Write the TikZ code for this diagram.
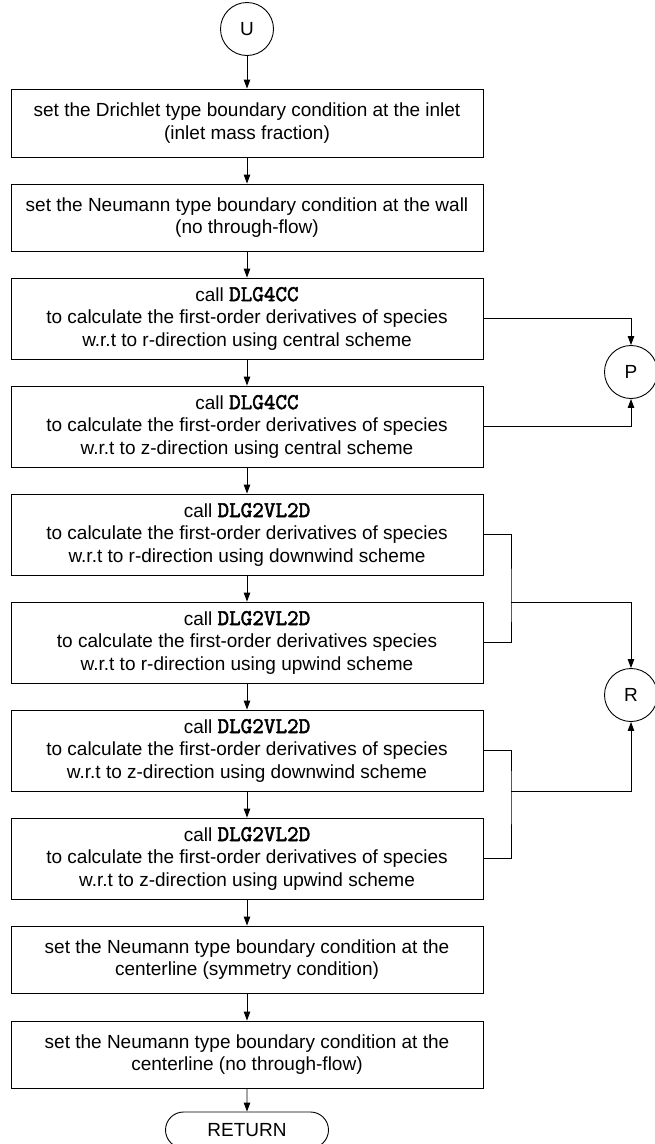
\documentclass[tikz,border=0pt]{standalone}
\usepackage{fontspec}
\setmainfont{Liberation Sans}
% heavy slab-serif typewriter face for routine names
\newfontfamily\codefont[FakeBold=2.2]{Latin Modern Mono}
\usetikzlibrary{arrows.meta,shapes.misc}

\newcommand{\code}[1]{{\codefont\fontsize{22.5}{22.5}\selectfont #1}}

\begin{document}
\begin{tikzpicture}[x=1pt,y=-1pt,
  every node/.style={font=\fontsize{19}{22.5}\selectfont},
  proc/.style={draw, line width=0.9pt, minimum width=472pt, inner sep=0pt, align=center},
  proctwo/.style={proc, minimum height=67pt},
  procthree/.style={proc, minimum height=81pt},
  conn/.style={draw, circle, line width=0.9pt, minimum size=53pt, inner sep=0pt},
  term/.style={draw, rounded rectangle, line width=0.9pt, minimum width=163pt, minimum height=36pt, inner sep=0pt},
  arr/.style={line width=0.9pt, -{Triangle[length=9pt,width=6.5pt]}},
  link/.style={line width=0.9pt}]
\useasboundingbox (0,0) rectangle (655,1144);
\begin{scope}
\clip (0,0) rectangle (655,1144);

% off-page connectors
\node[conn] (U) at (247,29) {U};
\node[conn] (P) at (631,372) {P};
\node[conn] (R) at (631,695) {R};

% process steps
\node[proctwo, minimum height=68pt] (b1) at (247,123)
  {set the Drichlet type boundary condition at the inlet\\(inlet mass fraction)};
\node[proctwo] (b2) at (247,217.5)
  {set the Neumann type boundary condition at the wall\\(no through-flow)};
\node[procthree] (b3) at (247,318.5)
  {call \code{DLG4CC}\\to calculate the first-order derivatives of species\\w.r.t to r-direction using central scheme};
\node[procthree] (b4) at (247,426.5)
  {call \code{DLG4CC}\\to calculate the first-order derivatives of species\\w.r.t to z-direction using central scheme};
\node[procthree] (b5) at (247,534.5)
  {call \code{DLG2VL2D}\\to calculate the first-order derivatives of species\\w.r.t to r-direction using downwind scheme};
\node[procthree] (b6) at (247,642.5)
  {call \code{DLG2VL2D}\\to calculate the first-order derivatives species\\w.r.t to r-direction using upwind scheme};
\node[procthree] (b7) at (247,750.5)
  {call \code{DLG2VL2D}\\to calculate the first-order derivatives of species\\w.r.t to z-direction using downwind scheme};
\node[procthree] (b8) at (247,858.5)
  {call \code{DLG2VL2D}\\to calculate the first-order derivatives of species\\w.r.t to z-direction using upwind scheme};
\node[proctwo] (b9) at (247,959.5)
  {set the Neumann type boundary condition at the\\centerline (symmetry condition)};
\node[proctwo] (b10) at (247,1054.5)
  {set the Neumann type boundary condition at the\\centerline (no through-flow)};

% terminator
\node[term] (ret) at (247,1130) {RETURN};

% main flow
\draw[arr] (U) -- (b1);
\draw[arr] (b1) -- (b2);
\draw[arr] (b2) -- (b3);
\draw[arr] (b3) -- (b4);
\draw[arr] (b4) -- (b5);
\draw[arr] (b5) -- (b6);
\draw[arr] (b6) -- (b7);
\draw[arr] (b7) -- (b8);
\draw[arr] (b8) -- (b9);
\draw[arr] (b9) -- (b10);
\draw[arr] (b10) -- (ret);

% central-scheme branches to P
\draw[arr] (b3.east) -| (P.north);
\draw[arr] (b4.east) -| (P.south);

% upwind/downwind branches joined and sent to R
\coordinate (jr) at (511,602);
\coordinate (jz) at (511,791);
\draw[link] (b5.east) -| (jr) |- (b6.east);
\draw[arr] (jr) -| (R.north);
\draw[link] (b7.east) -| (jz) |- (b8.east);
\draw[arr] (jz) -| (R.south);
\end{scope}
\end{tikzpicture}
\end{document}
